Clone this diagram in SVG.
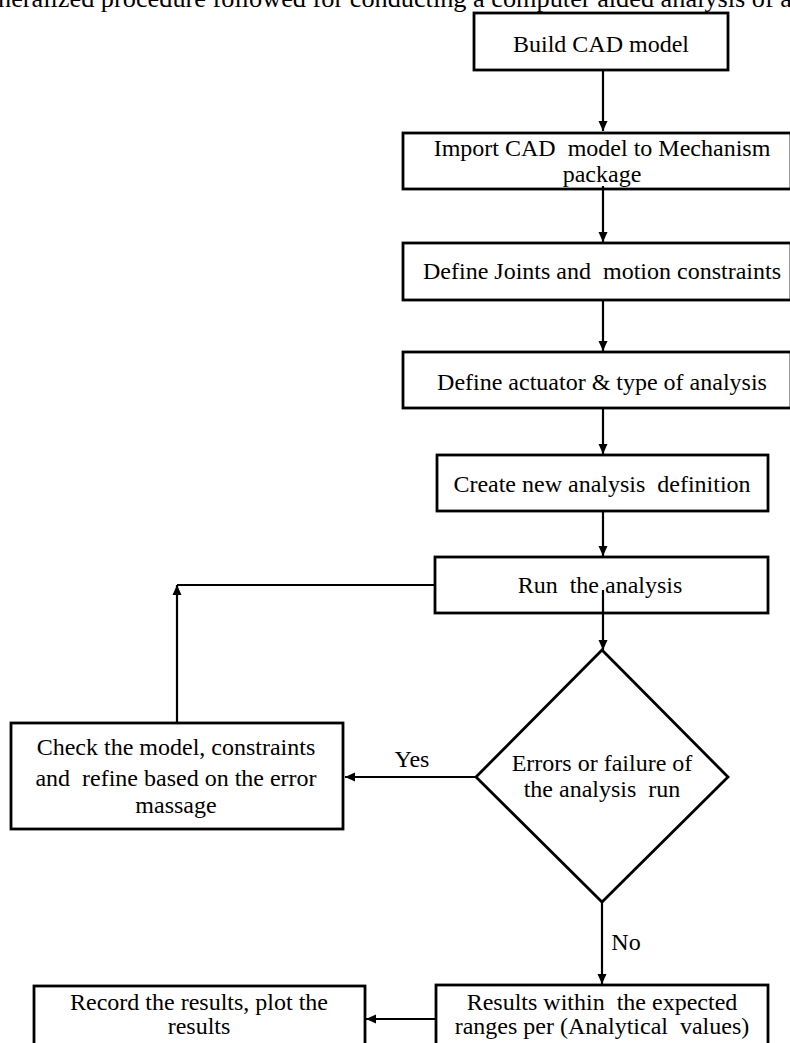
<svg xmlns="http://www.w3.org/2000/svg" width="790" height="1043" viewBox="0 0 790 1043">
<defs>
<marker id="ah" viewBox="0 0 10 10" refX="10" refY="5" markerWidth="10" markerHeight="10" markerUnits="userSpaceOnUse" orient="auto">
<path d="M0,0.5 L10,5 L0,9.5 z" fill="#000"/>
</marker>
<style>
.box{fill:#fff;stroke:#000;stroke-width:2.8}
.t{font-family:"Liberation Serif","Times New Roman",serif;font-size:24px;fill:#000;text-anchor:middle;white-space:pre}
.c{fill:none;stroke:#000;stroke-width:2.2}
</style>
</defs>
<rect width="790" height="1043" fill="#fff"/>
<text x="-2" y="7" font-family="Liberation Serif, Times New Roman, serif" font-size="25" fill="#000" textLength="794" lengthAdjust="spacingAndGlyphs">neralized procedure followed for conducting a computer aided analysis of a</text>
<g id="n1"><rect class="box" x="474" y="13" width="254" height="57"/><text class="t" x="601" y="52">Build CAD model</text></g>
<g id="n2"><rect class="box" x="403" y="133" width="388" height="56"/><text class="t" x="602" y="156" xml:space="preserve">Import CAD  model to Mechanism</text><text class="t" x="602" y="182">package</text></g>
<g id="n3"><rect class="box" x="403" y="243" width="388" height="57"/><text class="t" x="602" y="279" xml:space="preserve">Define Joints and  motion constraints</text></g>
<g id="n4"><rect class="box" x="403" y="352" width="388" height="56"/><text class="t" x="602" y="390">Define actuator &amp; type of analysis</text></g>
<g id="n5"><rect class="box" x="437" y="455" width="331" height="56"/><text class="t" x="602" y="492" xml:space="preserve">Create new analysis  definition</text></g>
<g id="n6"><rect class="box" x="435" y="557" width="333" height="56"/><text class="t" x="600" y="593" xml:space="preserve">Run  the analysis</text></g>
<g id="n7"><polygon class="box" points="602,650 728,777 602,902 476,777"/><text class="t" x="602" y="771">Errors or failure of</text><text class="t" x="602" y="797" xml:space="preserve">the analysis  run</text></g>
<g id="n8"><rect class="box" x="11" y="723" width="332" height="106"/><text class="t" x="176" y="755">Check the model, constraints</text><text class="t" x="176" y="786" xml:space="preserve">and  refine based on the error</text><text class="t" x="176" y="813">massage</text></g>
<g id="n9"><rect class="box" x="436" y="985" width="332" height="80"/><text class="t" x="602" y="1010" xml:space="preserve">Results within  the expected</text><text class="t" x="602" y="1034" xml:space="preserve">ranges per (Analytical  values)</text></g>
<g id="n10"><rect class="box" x="34" y="986" width="331" height="80"/><text class="t" x="199" y="1010">Record the results, plot the</text><text class="t" x="199" y="1034">results</text></g>
<g id="connectors">
<path class="c" d="M603,70 V131" marker-end="url(#ah)"/>
<path class="c" d="M603,186 V242" marker-end="url(#ah)"/>
<path class="c" d="M603,300 V351" marker-end="url(#ah)"/>
<path class="c" d="M603,408 V454" marker-end="url(#ah)"/>
<path class="c" d="M603,511 V556" marker-end="url(#ah)"/>
<path class="c" d="M603,590 V650" marker-end="url(#ah)"/>
<path class="c" d="M476,777 H345" marker-end="url(#ah)"/>
<path class="c" d="M435,585 H177"/>
<path class="c" d="M177,723 V585" marker-end="url(#ah)"/>
<path class="c" d="M602,902 V984" marker-end="url(#ah)"/>
<path class="c" d="M436,1019 H366" marker-end="url(#ah)"/>
<text class="t" x="412" y="767">Yes</text>
<text class="t" x="626" y="950">No</text>
</g>
</svg>
